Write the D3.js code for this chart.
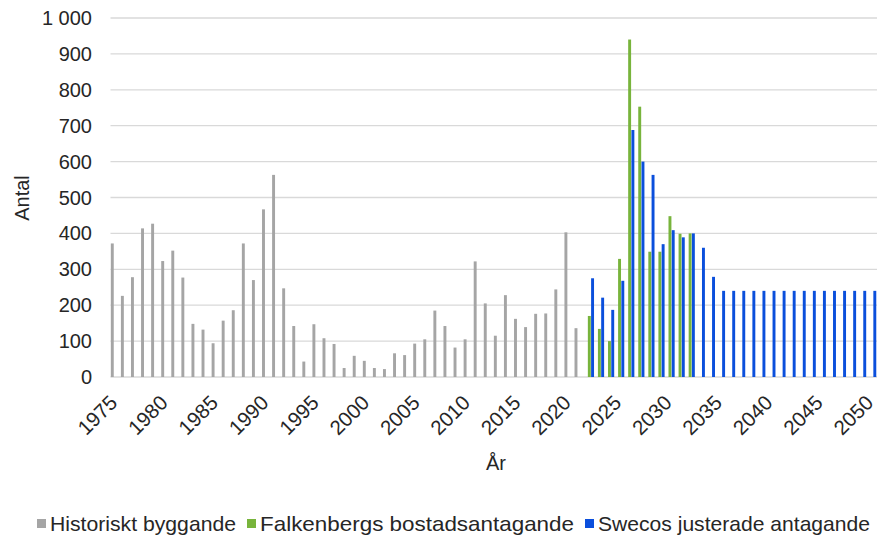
<!DOCTYPE html>
<html>
<head>
<meta charset="utf-8">
<script src="https://cdn.jsdelivr.net/npm/d3@7"></script>
<style>
  body { margin: 0; background: #fff; }
  text { font-family: "Liberation Sans", Arial, sans-serif; fill: #262626; }
</style>
</head>
<body>
<svg id="chart" width="877" height="537"></svg>
<script>
// categories: one per year
var years = d3.range(1975, 2051);

// historical construction 1975-2021
var historic = [372, 226, 278, 414, 427, 323, 352, 277, 148, 132,
                94, 157, 186, 372, 270, 467, 563, 247, 142, 43,
                147, 108, 92, 25, 59, 45, 25, 22, 66, 61,
                93, 105, 185, 142, 82, 105, 322, 205, 115, 228,
                162, 139, 176, 177, 244, 403, 136];
// Falkenberg assumption 2022-2032
var falkenberg = [170, 134, 100, 329, 940, 753, 349, 349, 448, 399, 400];
// Sweco adjusted assumption 2022-2050
var sweco = [275, 221, 187, 268, 688, 600, 563, 370, 409, 389, 400, 360, 279,
             240, 240, 240, 240, 240, 240, 240, 240, 240, 240, 240, 240, 240, 240, 240, 240];

var seriesNames = ["Historiskt byggande", "Falkenbergs bostadsantagande", "Swecos justerade antagande"];
var seriesColors = ["#a5a5a5", "#78b43c", "#0b4fdc"];
var legendWidths = [186, 314, 272];   // text widths as in the picture
var yTicks = [0, 100, 200, 300, 400, 500, 600, 700, 800, 900, 1000];

// build rows {year, key, value}
var rows = [];
historic.forEach(function(v, i) { rows.push({year: 1975 + i, key: 0, value: v}); });
falkenberg.forEach(function(v, i) { rows.push({year: 2022 + i, key: 1, value: v}); });
sweco.forEach(function(v, i) { rows.push({year: 2022 + i, key: 2, value: v}); });

var svg = d3.select("#chart");
var plotLeft = 110.5, plotRight = 876.6, plotTop = 18, plotBottom = 377;

var x = d3.scaleBand().domain(years).range([plotLeft, plotRight]);
var sub = d3.scaleBand().domain([0, 1, 2]).range([0, x.bandwidth()]).padding(0.1);
var y = d3.scaleLinear().domain([0, 1000]).range([plotBottom, plotTop]);

var fmt = d3.formatLocale({decimal: ",", thousands: "\u00a0", grouping: [3], currency: ["", " kr"]}).format(",d");

// gridlines
svg.append("g").selectAll("line").data(yTicks).join("line")
  .attr("x1", plotLeft).attr("x2", 877)
  .attr("y1", function(d) { return y(d); }).attr("y2", function(d) { return y(d); })
  .attr("stroke", "#d9d9d9").attr("stroke-width", 1.3);

// y tick labels
svg.append("g").selectAll("text").data(yTicks).join("text")
  .attr("x", 92).attr("y", function(d) { return y(d); })
  .attr("dy", "0.35em").attr("text-anchor", "end")
  .style("font-size", "20px")
  .text(function(d) { return fmt(d); });

// bars
svg.append("g").selectAll("rect").data(rows).join("rect")
  .attr("x", function(d) { return x(d.year) + sub(d.key); })
  .attr("width", sub.bandwidth())
  .attr("y", function(d) { return y(d.value); })
  .attr("height", function(d) { return plotBottom - y(d.value); })
  .attr("fill", function(d) { return seriesColors[d.key]; });

// x tick labels every 5 years, rotated
var xLabels = years.filter(function(d) { return d % 5 === 0; });
svg.append("g").selectAll("text").data(xLabels).join("text")
  .attr("transform", function(d) {
    return "translate(" + (x(d) + x.bandwidth() / 2 + 3) + ",404) rotate(-45)";
  })
  .attr("text-anchor", "end")
  .style("font-size", "20.5px")
  .text(function(d) { return d; });

// axis titles
svg.append("text").attr("x", 496).attr("y", 470).attr("text-anchor", "middle")
  .style("font-size", "20px").text("År");
svg.append("text").attr("transform", "translate(22,198) rotate(-90)")
  .attr("text-anchor", "middle").attr("dy", "0.35em")
  .style("font-size", "20px").text("Antal");

// legend
var lx = 37;
seriesNames.forEach(function(name, i) {
  svg.append("rect").attr("x", lx).attr("y", 519).attr("width", 9).attr("height", 9)
    .attr("fill", seriesColors[i]);
  svg.append("text").attr("x", lx + 13).attr("y", 531)
    .attr("textLength", legendWidths[i]).attr("lengthAdjust", "spacingAndGlyphs")
    .style("font-size", "21px").text(name);
  lx += 13 + legendWidths[i] + 11;
});
</script>
</body>
</html>
